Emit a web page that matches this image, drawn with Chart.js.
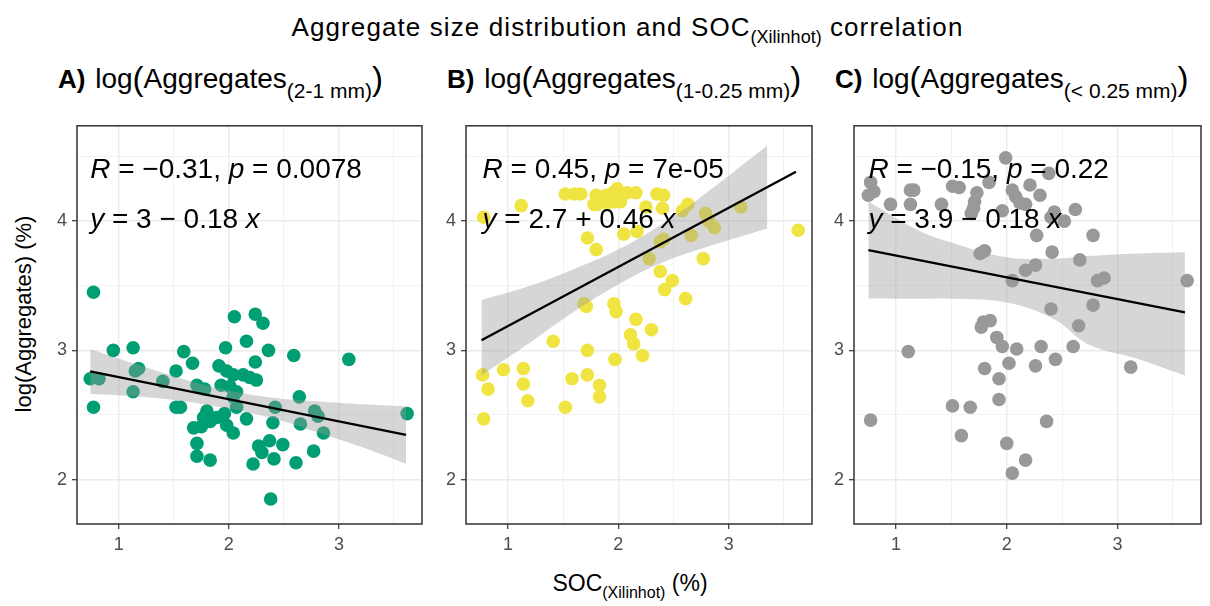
<!DOCTYPE html>
<html>
<head>
<meta charset="utf-8">
<script src="https://cdn.jsdelivr.net/npm/chart.js@4.4.1/dist/chart.umd.min.js"></script>
<style>
  body { margin: 0; background: #fff; font-family: "Liberation Sans", Arial, sans-serif; color: #000; }
  #page { position: relative; width: 1210px; height: 606px; overflow: hidden; }
  canvas { position: absolute; top: 110px; }
  .main-title { position: absolute; top: 12px; left: 0; width: 1255px; text-align: center;
    font-size: 26px; letter-spacing: 1.1px; line-height: 30px; white-space: nowrap; }
  .main-title sub { font-size: 18px; letter-spacing: 0; vertical-align: -7px; line-height: 0; }
  .ptitle { position: absolute; top: 63px; font-size: 28px; line-height: 32px; white-space: nowrap; }
  .ptitle b { font-size: 26px; margin-right: 2px; }
  .ptitle sub { font-size: 21px; vertical-align: -10px; line-height: 0; }
  .ptitle .br { font-size: 33px; vertical-align: -2px; line-height: 0; }
  .ytitle { position: absolute; left: 24px; top: 314px; transform: translate(-50%, -50%) rotate(-90deg);
    font-size: 22px; white-space: nowrap; }
  .xtitle { position: absolute; left: 630px; top: 583px; transform: translate(-50%, -50%);
    font-size: 23px; white-space: nowrap; }
  .xtitle sub { font-size: 16px; vertical-align: -7px; line-height: 0; }
</style>
</head>
<body>
<div id="page">
  <div class="main-title">Aggregate size distribution and SOC<sub>(Xilinhot)</sub> correlation</div>
  <div class="ptitle" style="left:58px"><b>A)</b> log<span class="br">(</span>Aggregates<sub>(2-1 mm)</sub><span class="br">)</span></div>
  <div class="ptitle" style="left:447px"><b>B)</b> log<span class="br">(</span>Aggregates<sub>(1-0.25 mm)</sub><span class="br">)</span></div>
  <div class="ptitle" style="left:835px"><b>C)</b> log<span class="br">(</span>Aggregates<sub>(&lt; 0.25 mm)</sub><span class="br">)</span></div>
  <div class="ytitle">log(Aggregates) (%)</div>
  <div class="xtitle">SOC<sub>(Xilinhot)</sub> (%)</div>
  <canvas id="chartA" width="389" height="460" style="left:41px"></canvas>
  <canvas id="chartB" width="390" height="460" style="left:430px"></canvas>
  <canvas id="chartC" width="392" height="460" style="left:818px"></canvas>
</div>

<script>
// axis ticks (major ones get labels, halves are minor grid)
const xTicks = [1, 1.5, 2, 2.5, 3, 3.5];
const yTicks = [2, 2.5, 3, 3.5, 4, 4.5];
const xLimits = [0.62, 3.755];
const yLimits = [1.656, 4.738];

// A) 2-1 mm
const socA = [0.77, 0.95, 1.13, 0.77, 0.74, 0.82, 1.15, 1.18, 1.13, 1.40, 1.59, 1.67, 1.52, 1.52, 1.56,
  1.71, 1.78, 1.97, 2.05, 2.24, 2.31, 2.16, 2.36, 2.24, 1.91, 1.98, 2.04, 2.13, 2.19, 2.25, 1.93, 2.01,
  2.07, 2.04, 2.07, 2.16, 2.59, 3.09, 2.64, 2.42, 2.40, 2.65, 2.78, 2.81, 2.86, 3.62, 1.80, 1.77, 1.83,
  1.89, 1.96, 1.98, 2.04, 1.68, 1.75, 1.71, 1.71, 1.83, 2.22, 2.27, 2.30, 2.37, 2.49, 2.41, 2.61, 2.77, 2.38];
const aggA = [3.45, 3.00, 3.02, 2.56, 2.78, 2.78, 2.84, 2.86, 2.68, 2.76, 2.99, 2.90, 2.84, 2.56, 2.56,
  2.73, 2.70, 3.02, 3.26, 3.28, 3.21, 3.07, 3.00, 2.91, 2.88, 2.84, 2.81, 2.81, 2.79, 2.77, 2.73, 2.72,
  2.68, 2.64, 2.56, 2.47, 2.96, 2.93, 2.64, 2.56, 2.44, 2.43, 2.53, 2.49, 2.36, 2.51, 2.53, 2.48, 2.45,
  2.48, 2.51, 2.42, 2.36, 2.40, 2.41, 2.28, 2.18, 2.15, 2.12, 2.26, 2.21, 2.30, 2.27, 2.16, 2.13, 2.22, 1.85];
const fitXA = [0.74, 3.61];
const fitYA = [2.837, 2.346];
const bandXA = [0.74, 1.2, 1.6, 2.0, 2.4, 2.8, 3.2, 3.61];
const bandLoA = [2.664, 2.64, 2.605, 2.55, 2.474, 2.366, 2.253, 2.122];
const bandHiA = [3.008, 2.88, 2.775, 2.69, 2.634, 2.606, 2.583, 2.568];

// B) 1-0.25 mm
const socB = [0.78, 1.12, 1.52, 1.60, 1.66, 1.80, 1.78, 1.89, 1.95, 1.99, 2.02, 2.08, 2.16, 1.96, 2.02,
  1.90, 1.81, 2.35, 2.41, 2.25, 2.40, 2.17, 2.05, 1.72, 1.80, 2.63, 2.58, 2.79, 2.82, 2.87, 2.66, 3.11,
  3.63, 2.38, 2.41, 2.28, 2.77, 2.38, 2.49, 2.42, 2.61, 1.69, 1.71, 1.96, 1.98, 2.16, 2.30, 2.11, 2.14,
  2.22, 1.41, 1.72, 1.97, 0.77, 0.96, 1.14, 0.82, 1.14, 1.18, 1.58, 1.72, 1.83, 1.83, 1.52, 0.78];
const aggB = [4.03, 4.12, 4.21, 4.21, 4.21, 4.20, 4.13, 4.20, 4.22, 4.25, 4.20, 4.22, 4.22, 4.15, 4.15,
  4.14, 4.13, 4.21, 4.20, 4.11, 4.10, 3.92, 3.90, 3.87, 3.78, 4.13, 4.08, 4.06, 4.00, 3.95, 3.89, 4.11,
  3.93, 3.84, 3.86, 3.71, 3.71, 3.61, 3.54, 3.47, 3.40, 3.36, 3.34, 3.36, 3.30, 3.24, 3.16, 3.12, 3.05,
  2.96, 3.07, 3.00, 2.93, 2.81, 2.85, 2.86, 2.70, 2.74, 2.61, 2.78, 2.81, 2.73, 2.64, 2.56, 2.47];
const fitXB = [0.76, 3.61];
const fitYB = [3.079, 4.382];
const bandXB = [0.76, 1.2, 1.6, 2.0, 2.4, 2.8, 3.35];
const bandLoB = [2.805, 3.06, 3.30, 3.51, 3.68, 3.80, 3.944];
const bandHiB = [3.389, 3.50, 3.63, 3.78, 3.98, 4.22, 4.585];

// C) < 0.25 mm
const socC = [0.77, 0.75, 0.80, 0.95, 1.13, 1.16, 1.13, 1.11, 0.77, 1.41, 1.51, 1.57, 1.73, 1.71, 1.70,
  1.68, 1.84, 1.99, 2.05, 2.08, 2.12, 2.17, 2.21, 2.30, 2.38, 1.96, 2.43, 2.40, 2.52, 2.62, 2.27, 2.78,
  2.41, 2.66, 1.76, 1.80, 2.26, 2.17, 2.05, 2.82, 2.88, 3.63, 2.78, 2.40, 2.65, 1.79, 1.85, 1.77, 1.91,
  1.96, 2.09, 2.31, 2.60, 2.02, 2.26, 2.44, 1.80, 3.12, 1.93, 1.93, 1.51, 1.67, 2.36, 1.59, 2.00, 2.17, 2.05];
const aggC = [4.30, 4.20, 4.23, 4.13, 4.24, 4.24, 4.13, 2.99, 2.46, 4.13, 4.27, 4.26, 4.22, 4.15, 4.10,
  4.06, 4.30, 4.49, 4.24, 4.19, 4.14, 4.13, 4.28, 4.20, 4.37, 4.08, 4.07, 4.03, 4.00, 4.09, 3.89, 3.89,
  3.76, 3.70, 3.75, 3.77, 3.66, 3.62, 3.54, 3.54, 3.56, 3.54, 3.35, 3.32, 3.19, 3.22, 3.23, 3.18, 3.10,
  3.03, 3.01, 3.03, 3.03, 2.90, 2.88, 2.93, 2.86, 2.87, 2.78, 2.62, 2.57, 2.56, 2.45, 2.34, 2.28, 2.15, 2.05];
const fitXC = [0.75, 3.61];
const fitYC = [3.776, 3.293];
const bandXC = [0.75, 1.2, 1.5, 2.0, 2.43, 2.73, 3.2, 3.61];
const bandLoC = [3.402, 3.40, 3.40, 3.37, 3.24, 3.05, 2.93, 2.805];
const bandHiC = [4.153, 3.93, 3.835, 3.72, 3.71, 3.73, 3.75, 3.759];

// stat labels
const corrR = ["\u22120.31", "0.45", "\u22120.15"];
const corrP = ["0.0078", "7e-05", "0.22"];
const eqText = ["3 \u2212 0.18 ", "2.7 + 0.46 ", "3.9 \u2212 0.18 "];

const FONT = '"Liberation Sans", Arial, sans-serif';

function toXY(xs, ys) {
  return xs.map((x, i) => ({ x: x, y: ys[i] }));
}

const framePlugin = {
  id: "frame",
  afterDraw(chart) {
    const a = chart.chartArea;
    const ctx = chart.ctx;
    ctx.save();
    ctx.strokeStyle = "#333333";
    ctx.lineWidth = 1.5;
    ctx.strokeRect(a.left, a.top, a.right - a.left, a.bottom - a.top);
    ctx.restore();
  }
};

function drawParts(ctx, parts, x, y) {
  parts.forEach(([text, italic]) => {
    ctx.font = (italic ? "italic " : "") + "28px " + FONT;
    ctx.fillText(text, x, y);
    x += ctx.measureText(text).width;
  });
}

function makeChart(id, xs, ys, color, fitX, fitY, bandX, bandLo, bandHi, k) {
  const labelPlugin = {
    id: "stats" + k,
    afterDraw(chart) {
      const ctx = chart.ctx;
      const x0 = chart.scales.x.getPixelForValue(Math.min(...xs));
      const top = chart.chartArea.top;
      ctx.save();
      ctx.fillStyle = "#000";
      ctx.textBaseline = "alphabetic";
      drawParts(ctx, [["R", true], [" = " + corrR[k] + ", ", false], ["p", true], [" = " + corrP[k], false]], x0, top + 52);
      drawParts(ctx, [["y", true], [" = " + eqText[k], false], ["x", true]], x0, top + 102);
      ctx.restore();
    }
  };

  return new Chart(document.getElementById(id), {
    type: "scatter",
    data: {
      datasets: [
        {
          type: "line",
          data: toXY(fitX, fitY),
          borderColor: "#000",
          borderWidth: 2.3,
          pointRadius: 0,
          fill: false,
          order: 0
        },
        {
          type: "line",
          data: toXY(bandX, bandHi),
          borderWidth: 0,
          borderColor: "rgba(0,0,0,0)",
          backgroundColor: "rgba(153,153,153,0.4)",
          pointRadius: 0,
          tension: 0.4,
          fill: "+1",
          order: 1
        },
        {
          type: "line",
          data: toXY(bandX, bandLo),
          borderWidth: 0,
          borderColor: "rgba(0,0,0,0)",
          pointRadius: 0,
          tension: 0.4,
          fill: false,
          order: 2
        },
        {
          data: toXY(xs, ys),
          backgroundColor: color,
          borderWidth: 0,
          pointRadius: 6.8,
          pointHoverRadius: 6.8,
          order: 3
        }
      ]
    },
    options: {
      responsive: false,
      devicePixelRatio: 1,
      animation: false,
      events: [],
      layout: { padding: { top: 10, right: id === "chartC" ? 9 : 8, left: 0, bottom: 0 } },
      plugins: { legend: { display: false }, tooltip: { enabled: false } },
      scales: {
        x: {
          type: "linear",
          min: xLimits[0],
          max: xLimits[1],
          afterBuildTicks: s => { s.ticks = xTicks.map(v => ({ value: v })); },
          afterFit: s => { s.height = 46; },
          border: { display: false },
          grid: {
            color: c => (c.tick && c.tick.value % 1 === 0) ? "#EBEBEB" : "#F2F2F2",
            lineWidth: c => (c.tick && c.tick.value % 1 === 0) ? 1.4 : 1,
            tickColor: c => (c.tick && c.tick.value % 1 === 0) ? "#333333" : "rgba(0,0,0,0)",
            tickLength: 5,
            tickWidth: 1.2
          },
          ticks: {
            autoSkip: false,
            maxRotation: 0,
            padding: 5,
            color: "#4D4D4D",
            font: { family: FONT, size: 18 },
            callback: v => (v % 1 === 0 ? String(v) : "")
          }
        },
        y: {
          type: "linear",
          min: yLimits[0],
          max: yLimits[1],
          afterBuildTicks: s => { s.ticks = yTicks.map(v => ({ value: v })); },
          afterFit: s => { s.width = 36; },
          border: { display: false },
          grid: {
            color: c => (c.tick && c.tick.value % 1 === 0) ? "#EBEBEB" : "#F2F2F2",
            lineWidth: c => (c.tick && c.tick.value % 1 === 0) ? 1.4 : 1,
            tickColor: c => (c.tick && c.tick.value % 1 === 0) ? "#333333" : "rgba(0,0,0,0)",
            tickLength: 5,
            tickWidth: 1.2
          },
          ticks: {
            autoSkip: false,
            padding: 5,
            color: "#4D4D4D",
            font: { family: FONT, size: 18 },
            callback: v => (v % 1 === 0 ? String(v) : "")
          }
        }
      }
    },
    plugins: [framePlugin, labelPlugin]
  });
}

makeChart("chartA", socA, aggA, "#009E73", fitXA, fitYA, bandXA, bandLoA, bandHiA, 0);
makeChart("chartB", socB, aggB, "#F0E442", fitXB, fitYB, bandXB, bandLoB, bandHiB, 1);
makeChart("chartC", socC, aggC, "#999999", fitXC, fitYC, bandXC, bandLoC, bandHiC, 2);
</script>
</body>
</html>
